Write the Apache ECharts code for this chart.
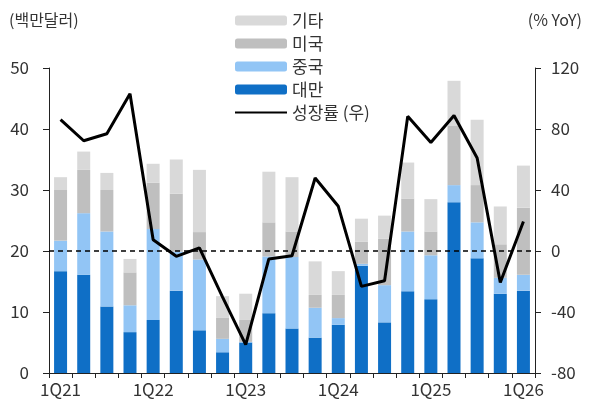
<!DOCTYPE html>
<html>
<head>
<meta charset="utf-8">
<script src="https://cdn.jsdelivr.net/npm/echarts@6/dist/echarts.min.js"></script>
<style>
  html, body { margin: 0; padding: 0; background: #fff; }
  #chart { width: 590px; height: 406px; }
</style>
</head>
<body>
<div id="chart"></div>
<script>
// 분기 (1Q21 ~ 1Q26)
const quarters = ['1Q21', '2Q21', '3Q21', '4Q21', '1Q22', '2Q22', '3Q22', '4Q22',
  '1Q23', '2Q23', '3Q23', '4Q23', '1Q24', '2Q24', '3Q24', '4Q24',
  '1Q25', '2Q25', '3Q25', '4Q25', '1Q26']

// 백만달러
const taiwan = [16.7, 16.1, 10.9, 6.7, 8.7, 13.5, 7.0, 3.4, 5.0, 9.8, 7.3, 5.8, 7.9, 17.6, 8.3, 13.4, 12.1, 28.0, 18.8, 13.0, 13.5]
const china = [5.0, 10.1, 12.3, 4.4, 14.9, 6.4, 11.6, 2.2, 0.1, 9.3, 11.7, 4.9, 1.1, 0.3, 6.1, 9.8, 7.2, 2.8, 5.9, 2.6, 2.6]
const usa = [8.3, 7.1, 6.8, 5.4, 7.6, 9.5, 4.5, 3.5, 3.6, 5.6, 4.2, 2.1, 3.8, 3.6, 7.6, 5.4, 3.9, 9.7, 6.1, 5.5, 11.0]
const others = [2.1, 3.0, 2.8, 2.2, 3.1, 5.6, 10.2, 3.5, 4.3, 8.3, 8.9, 5.5, 3.9, 3.8, 3.8, 5.9, 5.3, 7.4, 10.7, 6.2, 6.9]

// % YoY (우축)
const growth = [86.1, 72.3, 76.9, 103.1, 7.4, -3.5, 2.0, -30.3, -61.4, -5.2, -3.1, 47.9, 29.3, -23.2, -19.5, 88.3, 71.2, 88.9, 61.0, -20.6, 19.4]

const leftTicks = { min: 0, max: 50, interval: 10 }
const rightTicks = { min: -80, max: 120, interval: 40 }

const font = '"Noto Sans CJK KR", "Noto Sans", sans-serif'
const textColor = '#333'

const myChart = echarts.init(document.getElementById('chart'))

const barSeries = (name, data, color) => ({
  name: name,
  type: 'bar',
  stack: 'total',
  barWidth: 13,
  data: data,
  itemStyle: { color: color },
  emphasis: { disabled: true }
})

const option = {
  animation: false,
  textStyle: { fontFamily: font, color: textColor },
  grid: { left: 49, right: 55, top: 68, bottom: 33 },
  graphic: [
    {
      type: 'text',
      left: 9,
      top: 12,
      style: { text: '(백만달러)', font: '16px ' + font, fill: textColor }
    },
    {
      type: 'text',
      right: 8,
      top: 12,
      style: { text: '(% YoY)', font: '16px ' + font, fill: textColor }
    }
  ],
  legend: {
    orient: 'vertical',
    left: 229,
    top: 7,
    itemWidth: 52,
    itemHeight: 10,
    itemGap: 6,
    data: ['기타', '미국', '중국', '대만', { name: '성장률 (우)', itemStyle: { opacity: 0 } }],
    textStyle: { fontSize: 17, color: textColor, fontFamily: font }
  },
  xAxis: {
    type: 'category',
    data: quarters,
    axisLine: { lineStyle: { color: '#222', width: 1 } },
    axisTick: { show: true, interval: 0, length: 5, lineStyle: { color: '#222' } },
    axisLabel: { interval: 3, fontSize: 17, color: textColor, margin: 8 }
  },
  yAxis: [
    {
      type: 'value',
      min: leftTicks.min,
      max: leftTicks.max,
      interval: leftTicks.interval,
      splitLine: { show: false },
      axisLine: { show: true, lineStyle: { color: '#222' } },
      axisTick: { show: true, length: 6, lineStyle: { color: '#222' } },
      axisLabel: { fontSize: 17, color: textColor, margin: 20 }
    },
    {
      type: 'value',
      min: rightTicks.min,
      max: rightTicks.max,
      interval: rightTicks.interval,
      splitLine: { show: false },
      axisLine: { show: true, lineStyle: { color: '#222' } },
      axisTick: { show: true, length: 6, lineStyle: { color: '#222' } },
      axisLabel: { fontSize: 17, color: textColor, margin: 16 }
    }
  ],
  series: [
    barSeries('대만', taiwan, '#0F6FC6'),
    barSeries('중국', china, '#92C5F5'),
    barSeries('미국', usa, '#BFBFBF'),
    barSeries('기타', others, '#D9D9D9'),
    {
      name: '성장률 (우)',
      type: 'line',
      yAxisIndex: 1,
      data: growth,
      symbol: 'none',
      lineStyle: { color: '#000', width: 3 },
      itemStyle: { color: '#000' },
      z: 5,
      markLine: {
        silent: true,
        symbol: 'none',
        label: { show: false },
        lineStyle: { color: '#000', width: 1.5, type: [5, 4] },
        data: [{ yAxis: 0 }]
      }
    }
  ]
}

myChart.setOption(option)
</script>
</body>
</html>
